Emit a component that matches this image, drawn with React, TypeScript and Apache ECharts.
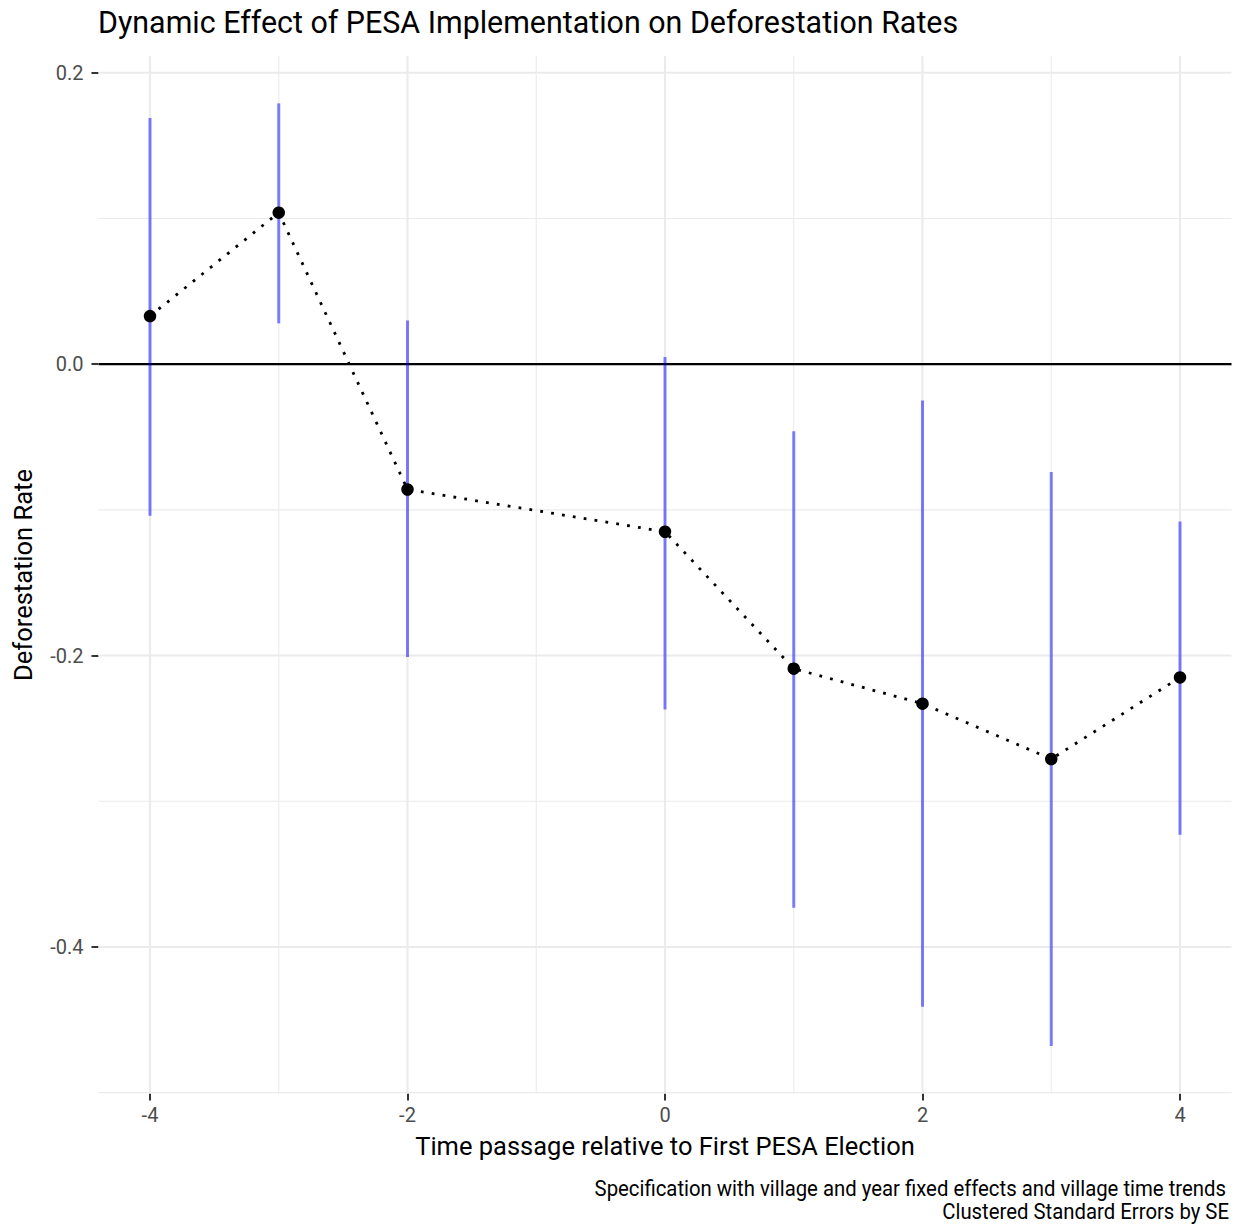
import React, { useEffect, useRef } from "react";
import * as echarts from "echarts";

const X = [-4, -3, -2, 0, 1, 2, 3, 4];
const EST = [0.033, 0.104, -0.086, -0.115, -0.209, -0.233, -0.271, -0.215];
const LO = [-0.104, 0.028, -0.201, -0.237, -0.373, -0.441, -0.468, -0.323];
const HI = [0.169, 0.179, 0.03, 0.005, -0.046, -0.025, -0.074, -0.108];

const X_TICKS = [-4, -2, 0, 2, 4];
const X_MINOR = [-3, -1, 1, 3];
const Y_TICKS = [0.2, 0, -0.2, -0.4];
const Y_MINOR = [0.1, -0.1, -0.3, -0.5];

const TITLE = "Dynamic Effect of PESA Implementation on Deforestation Rates";
const X_TITLE = "Time passage relative to First PESA Election";
const Y_TITLE = "Deforestation Rate";
const CAPTION_1 = "Specification with village and year fixed effects and village time trends";
const CAPTION_2 = "Clustered Standard Errors by SE";

const FONT = "Roboto";
const SX = 0.955;

export default function App() {
  const ref = useRef<HTMLDivElement>(null);
  useEffect(() => {
    if (!ref.current) return;
    const chart = echarts.init(ref.current, null, { renderer: "svg" });

    const vLine = (color: string, width: number) => (params: any, api: any) => {
      const cs = params.coordSys;
      const px = api.coord([api.value(0), 0])[0];
      return {
        type: "line",
        silent: true,
        shape: { x1: px, y1: cs.y, x2: px, y2: cs.y + cs.height },
        style: { stroke: color, lineWidth: width },
      };
    };
    const hLine = (color: string, width: number) => (params: any, api: any) => {
      const cs = params.coordSys;
      const py = api.coord([0, api.value(1)])[1];
      return {
        type: "line",
        silent: true,
        shape: { x1: cs.x, y1: py, x2: cs.x + cs.width, y2: py },
        style: { stroke: color, lineWidth: width },
      };
    };

    const option: any = {
      animation: false,
      backgroundColor: "#ffffff",
      grid: { left: 98.5, right: 7.5, top: 56, bottom: 132.6, containLabel: false },
      xAxis: {
        type: "value",
        min: -4.4,
        max: 4.4,
        axisLine: { show: false, onZero: false },
        splitLine: { show: false },
        axisTick: {
          show: true,
          customValues: X_TICKS,
          length: 7,
          lineStyle: { color: "#333333", width: 2 },
        },
        axisLabel: {
          customValues: X_TICKS,
          formatter: (v: number) => String(v),
          color: "#4d4d4d",
          fontFamily: FONT,
          fontSize: 20,
          margin: 12,
        },
      },
      yAxis: {
        type: "value",
        min: -0.5005,
        max: 0.2115,
        axisLine: { show: false, onZero: false },
        splitLine: { show: false },
        axisTick: {
          show: true,
          customValues: Y_TICKS,
          length: 7,
          lineStyle: { color: "#333333", width: 2 },
        },
        axisLabel: {
          customValues: Y_TICKS,
          formatter: (v: number) => v.toFixed(1),
          color: "#4d4d4d",
          fontFamily: FONT,
          fontSize: 20,
          margin: 15,
        },
      },
      graphic: [
        {
          type: "text",
          x: 98,
          y: 22,
          scaleX: 0.95,
          style: {
            text: TITLE,
            fill: "#000",
            fontFamily: FONT,
            fontSize: 32,
            textAlign: "left",
            textVerticalAlign: "middle",
          },
        },
        {
          type: "text",
          x: 665,
          y: 1146,
          scaleX: SX,
          style: {
            text: X_TITLE,
            fill: "#000",
            fontFamily: FONT,
            fontSize: 26.7,
            textAlign: "center",
            textVerticalAlign: "middle",
          },
        },
        {
          type: "text",
          x: 23,
          y: 575,
          rotation: Math.PI / 2,
          scaleX: SX,
          style: {
            text: Y_TITLE,
            fill: "#000",
            fontFamily: FONT,
            fontSize: 26.7,
            textAlign: "center",
            textVerticalAlign: "middle",
          },
        },
        {
          type: "text",
          x: 1226,
          y: 1188.5,
          scaleX: SX,
          style: {
            text: CAPTION_1,
            fill: "#000",
            fontFamily: FONT,
            fontSize: 21.3,
            textAlign: "right",
            textVerticalAlign: "middle",
          },
        },
        {
          type: "text",
          x: 1229,
          y: 1211.5,
          scaleX: SX,
          style: {
            text: CAPTION_2,
            fill: "#000",
            fontFamily: FONT,
            fontSize: 21.3,
            textAlign: "right",
            textVerticalAlign: "middle",
          },
        },
      ],
      series: [
        {
          type: "custom",
          name: "minorX",
          silent: true,
          z: 1,
          renderItem: vLine("#ebebeb", 1.1),
          data: X_MINOR.map((x) => [x, 0]),
          encode: { x: 0, y: 1 },
        },
        {
          type: "custom",
          name: "minorY",
          silent: true,
          z: 1,
          renderItem: hLine("#ebebeb", 1.1),
          data: Y_MINOR.map((y) => [0, y]),
          encode: { x: 0, y: 1 },
        },
        {
          type: "custom",
          name: "majorX",
          silent: true,
          z: 1,
          renderItem: vLine("#ebebeb", 2.1),
          data: X_TICKS.map((x) => [x, 0]),
          encode: { x: 0, y: 1 },
        },
        {
          type: "custom",
          name: "majorY",
          silent: true,
          z: 1,
          renderItem: hLine("#ebebeb", 2.1),
          data: Y_TICKS.map((y) => [0, y]),
          encode: { x: 0, y: 1 },
        },
        {
          type: "custom",
          name: "zero",
          silent: true,
          z: 2,
          renderItem: hLine("#000000", 2.2),
          data: [[0, 0]],
          encode: { x: 0, y: 1 },
        },
        {
          type: "custom",
          name: "ci",
          z: 3,
          renderItem: (params: any, api: any) => {
            const a = api.coord([api.value(0), api.value(1)]);
            const b = api.coord([api.value(0), api.value(2)]);
            return {
              type: "line",
              shape: { x1: a[0], y1: a[1], x2: b[0], y2: b[1] },
              style: { stroke: "rgba(0,0,255,0.5)", lineWidth: 3 },
            };
          },
          data: X.map((x, i) => [x, LO[i], HI[i]]),
          encode: { x: 0, y: [1, 2] },
        },
        {
          type: "line",
          name: "estimate",
          z: 4,
          data: X.map((x, i) => [x, EST[i]]),
          symbol: "circle",
          symbolSize: 12.5,
          showSymbol: true,
          showAllSymbol: true,
          itemStyle: { color: "#000000" },
          lineStyle: { color: "#000000", width: 2.8, type: [2.8, 8.2] },
        },
      ],
    };
    chart.setOption(option);
    return () => chart.dispose();
  }, []);
  return (
    <div
      ref={ref}
      style={{ position: "fixed", left: 0, top: 0, width: 1239, height: 1226, background: "#fff" }}
    />
  );
}
